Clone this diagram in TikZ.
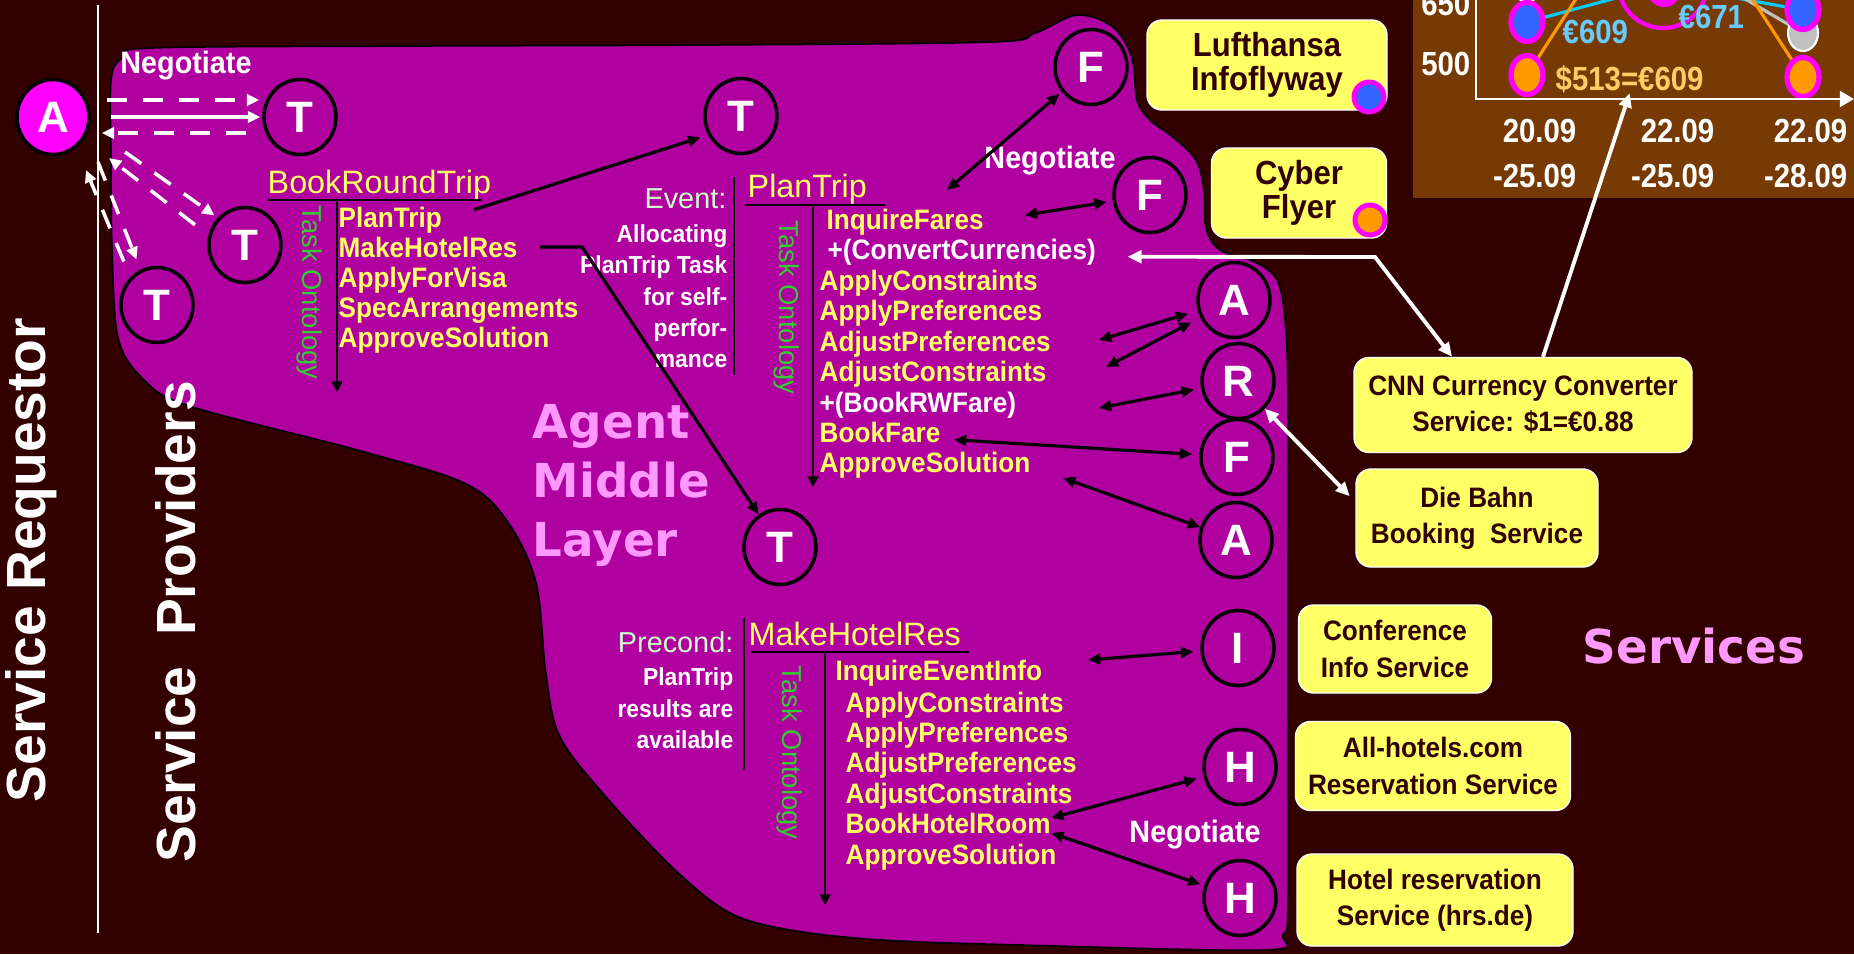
\documentclass[tikz,border=0pt]{standalone}
\usepackage{fontspec}
\setmainfont{Liberation Sans}
\newfontfamily\narrowfont[FakeStretch=0.93]{Liberation Sans}
\newfontfamily\chartfont[FakeStretch=0.88]{Liberation Sans}
\newfontfamily\layerfont{DejaVu Sans}
\usetikzlibrary{arrows.meta, shapes.geometric}

\definecolor{bgmaroon}{HTML}{330000}
\definecolor{layerpurple}{HTML}{B000A0}
\definecolor{agentmag}{HTML}{FF00FF}
\definecolor{taskyellow}{HTML}{FFFF66}
\definecolor{ontogreen}{HTML}{33CC33}
\definecolor{condgreen}{HTML}{CCFFCC}
\definecolor{layerpink}{HTML}{FF99FF}
\definecolor{chartbrown}{HTML}{773A04}
\definecolor{fareblue}{HTML}{3366FF}
\definecolor{fareorange}{HTML}{FF9900}
\definecolor{faregray}{HTML}{C0C0C0}
\definecolor{eurocyan}{HTML}{66CCFF}
\definecolor{linecyan}{HTML}{00CCFF}
\definecolor{dollartan}{HTML}{FFCC66}

\tikzset{
  agent/.style={ellipse, draw=black, line width=1pt, minimum width=7.2mm, minimum height=7.5mm, inner sep=0pt, text=white, font=\bfseries\fontsize{12.5}{14}\selectfont},
  taskhead/.style={anchor=base west, inner sep=0pt, text=taskyellow, font=\fontsize{9.2}{11}\selectfont},
  taskitem/.style={anchor=base west, inner sep=0pt, text=taskyellow, font=\narrowfont\bfseries\fontsize{8}{9}\selectfont},
  subtask/.style={taskitem, text=white},
  ontolabel/.style={rotate=-90, anchor=west, inner sep=0pt, text=ontogreen, font=\fontsize{7.8}{9}\selectfont},
  condhead/.style={anchor=base east, inner sep=0pt, text=condgreen, font=\fontsize{8.2}{10}\selectfont},
  condtext/.style={anchor=base east, inner sep=0pt, text=white, font=\narrowfont\bfseries\fontsize{7}{8}\selectfont},
  negolabel/.style={anchor=base, inner sep=0pt, text=white, font=\narrowfont\bfseries\fontsize{8.8}{10}\selectfont},
  layerlabel/.style={anchor=base west, inner sep=0pt, text=layerpink, font=\layerfont\bfseries\fontsize{13.3}{16}\selectfont},
  rolelabel/.style={rotate=90, inner sep=0pt, text=white, font=\bfseries\fontsize{15.7}{18}\selectfont},
  svcbox/.style={rectangle, rounded corners=1.5mm, fill=taskyellow, draw=white, line width=0.4pt, text=bgmaroon, align=center, inner sep=0pt, font=\narrowfont\bfseries\fontsize{8}{10.3}\selectfont},
  flightbox/.style={svcbox, font=\narrowfont\bfseries\fontsize{9.5}{9.6}\selectfont},
  svcdot/.style={circle, draw=agentmag, line width=1.4pt, minimum size=3mm, inner sep=0pt},
  farept/.style={ellipse, draw=agentmag, line width=1.5pt, minimum width=3.2mm, minimum height=3.9mm, inner sep=0pt},
  charttext/.style={inner sep=0pt, font=\chartfont\bfseries\fontsize{9.5}{11}\selectfont},
  link/.style={black, line width=0.9pt, >={Triangle[length=3.5pt,width=3pt]}, <->},
  tolink/.style={black, line width=0.9pt, >={Triangle[length=3.5pt,width=3pt]}, ->},
  treeline/.style={black, line width=0.6pt, >={Triangle[length=3pt,width=3pt]}},
  wdash/.style={white, line width=1pt, dash pattern=on 2mm off 1.6mm, >={Triangle[length=3.5pt,width=3.2pt]}, ->},
  wlink/.style={white, line width=1.1pt, >={Triangle[length=4pt,width=3.6pt]}}
}

\begin{document}
\begin{tikzpicture}[x=0.1mm, y=-0.1mm]
\useasboundingbox (0,0) rectangle (1854,954);
\fill[bgmaroon] (0,0) rectangle (1854,954);

\draw[fill=layerpurple, line width=0.5pt] plot[smooth cycle, tension=0.55] coordinates {
  (111,80) (122,58) (150,48) (400,46) (700,45) (990,42) (1035,33) (1077,15) (1113,27)
  (1132,58) (1137,100) (1150,120) (1173,137) (1196,160) (1204,190) (1206,228) (1220,250)
  (1255,262) (1277,280) (1285,320) (1288,400) (1288,650) (1288,900) (1283,935) (1265,950)
  (1019,945) (881,940) (790,930) (730,913) (675,870) (606,797) (560,737) (546,675)
  (536,583) (507,521) (464,483) (357,450) (189,406) (143,379) (118,338) (112,250) (111,160)};
\draw[white, line width=0.6pt] (98,5) -- (98,933);

\fill[chartbrown] (1413,0) rectangle (1854,198);
\begin{scope}
\clip (1413,0) rectangle (1854,198);
\coordinate (b1) at (1527,22);
\coordinate (o1) at (1527,75);
\coordinate (g1) at (1527,-18);
\coordinate (m1) at (1664,-15);
\coordinate (b2) at (1803,10);
\coordinate (g2) at (1803,33);
\coordinate (o2) at (1803,77);
\coordinate (otop1) at (1601,-40);
\coordinate (otop2) at (1727,-40);
\coordinate (gtop) at (1696,-30);
\draw[linecyan, line width=0.9pt] (b1) -- (m1) -- (b2);
\draw[faregray, line width=0.9pt] (g2) -- (gtop);
\draw[fareorange, line width=0.9pt] (o1) -- (otop1);
\draw[fareorange, line width=0.9pt] (o2) -- (otop2);
\node[ellipse, draw=agentmag, line width=1.2pt, minimum width=8.8mm, minimum height=8.6mm] (hilite) at (1663,-15) {};
\node[farept, fill=agentmag] (m1dot) at (m1) {};
\node[farept, fill=faregray, draw=white, line width=0.6pt] (g1dot) at (g1) {};
\node[farept, fill=fareblue] (b1dot) at (b1) {};
\node[farept, fill=fareorange] (o1dot) at (o1) {};
\node[farept, fill=faregray, draw=white, line width=0.6pt, minimum width=3mm, minimum height=3.6mm] (g2dot) at (g2) {};
\node[farept, fill=fareblue] (b2dot) at (b2) {};
\node[farept, fill=fareorange] (o2dot) at (o2) {};
\end{scope}
\draw[white, line width=0.7pt, -{Triangle[length=4pt,width=4.5pt]}] (1476,0) -- (1476,99) -- (1854,99);
\node[charttext, text=white, anchor=base east] (y650) at (1471,15) {650};
\node[charttext, text=white, anchor=base east] (y500) at (1471,75) {500};
\node[charttext, text=white, anchor=base east] (d1a) at (1577,142) {20.09};
\node[charttext, text=white, anchor=base east] (d1b) at (1577,187) {-25.09};
\node[charttext, text=white, anchor=base east] (d2a) at (1715,142) {22.09};
\node[charttext, text=white, anchor=base east] (d2b) at (1715,187) {-25.09};
\node[charttext, text=white, anchor=base east] (d3a) at (1848,142) {22.09};
\node[charttext, text=white, anchor=base east] (d3b) at (1848,187) {-28.09};
\node[charttext, text=eurocyan, anchor=base west] (e609) at (1562,43) {€609};
\node[charttext, text=eurocyan, anchor=base west] (e671) at (1678,28) {€671};
\node[charttext, text=dollartan, anchor=base west] (d513) at (1555,90) {\$513=€609};

\node[rolelabel] (requestor) at (31,560) {Service Requestor};
\node[rolelabel] (providers) at (176,622) {Service\ \ Providers};
\node[layerlabel] (layer1) at (532,438) {Agent};
\node[layerlabel] (layer2) at (532,497) {Middle};
\node[layerlabel] (layer3) at (532,556) {Layer};
\node[layerlabel, anchor=base] (services) at (1694,663) {Services};

\node[negolabel] (nego1) at (186,73) {Negotiate};
\node[negolabel] (nego2) at (1050,168) {Negotiate};
\node[negolabel] (nego3) at (1195,842) {Negotiate};

\node[agent, fill=agentmag] (req) at (53,117) {A};
\node[agent] (t1) at (300,117) {T};
\node[agent] (t2) at (245,245) {T};
\node[agent] (t3) at (157,305) {T};
\node[agent] (t4) at (741,116) {T};
\node[agent] (t5) at (780,547) {T};
\node[agent] (f1) at (1091,67) {F};
\node[agent] (f2) at (1150,195) {F};
\node[agent] (a1) at (1234,300) {A};
\node[agent] (r1) at (1238,381) {R};
\node[agent] (f3) at (1237,457) {F};
\node[agent] (a2) at (1236,540) {A};
\node[agent] (i1) at (1238,648) {I};
\node[agent] (h1) at (1240,767) {H};
\node[agent] (h2) at (1240,898) {H};

\node[taskhead] (brt) at (267,193) {BookRoundTrip};
\draw[treeline] (268,200) -- (482,200);
\draw[treeline, ->] (337,200) -- (337,392);
\node[ontolabel] (onto1) at (310,205) {Task Ontology};
\node[taskitem] (brt1) at (338,227) {PlanTrip};
\node[taskitem] (brt2) at (338,257) {MakeHotelRes};
\node[taskitem] (brt3) at (338,287) {ApplyForVisa};
\node[taskitem] (brt4) at (338,317) {SpecArrangements};
\node[taskitem] (brt5) at (338,347) {ApproveSolution};

\node[condhead] (ev) at (727,208) {Event:};
\node[condtext] (ev1) at (728,242) {Allocating};
\node[condtext] (ev2) at (728,273) {PlanTrip Task};
\node[condtext] (ev3) at (728,305) {for self-};
\node[condtext] (ev4) at (728,336) {perfor-};
\node[condtext] (ev5) at (728,367) {mance};
\draw[treeline] (734,177) -- (734,375);
\node[taskhead] (pt) at (747,197) {PlanTrip};
\draw[treeline] (745,205) -- (885,205);
\draw[treeline, ->] (813,205) -- (813,487);
\node[ontolabel] (onto2) at (787,220) {Task Ontology};
\node[taskitem] (pt1) at (826,229) {InquireFares};
\node[subtask] (pt2) at (827,259) {+(ConvertCurrencies)};
\node[taskitem] (pt3) at (819,290) {ApplyConstraints};
\node[taskitem] (pt4) at (819,320) {ApplyPreferences};
\node[taskitem] (pt5) at (819,351) {AdjustPreferences};
\node[taskitem] (pt6) at (819,381) {AdjustConstraints};
\node[subtask] (pt7) at (819,412) {+(BookRWFare)};
\node[taskitem] (pt8) at (819,442) {BookFare};
\node[taskitem] (pt9) at (819,472) {ApproveSolution};

\node[condhead] (pc) at (734,652) {Precond:};
\node[condtext] (pc1) at (734,685) {PlanTrip};
\node[condtext] (pc2) at (734,717) {results are};
\node[condtext] (pc3) at (734,748) {available};
\draw[treeline] (744,618) -- (744,770);
\node[taskhead] (mh) at (748,645) {MakeHotelRes};
\draw[treeline] (751,652) -- (969,652);
\draw[treeline, ->] (825,652) -- (825,905);
\node[ontolabel] (onto3) at (790,665) {Task Ontology};
\node[taskitem] (mh1) at (835,680) {InquireEventInfo};
\node[taskitem] (mh2) at (845,712) {ApplyConstraints};
\node[taskitem] (mh3) at (845,742) {ApplyPreferences};
\node[taskitem] (mh4) at (845,772) {AdjustPreferences};
\node[taskitem] (mh5) at (845,803) {AdjustConstraints};
\node[taskitem] (mh6) at (845,833) {BookHotelRoom};
\node[taskitem] (mh7) at (845,864) {ApproveSolution};

\node[flightbox, minimum width=24mm, minimum height=9mm] (lufthansa) at (1267,65) {Lufthansa\\Infoflyway};
\node[svcdot, fill=fareblue] (lhdot) at (1369,97) {};
\node[flightbox, minimum width=17.5mm, minimum height=9mm] (cyber) at (1299,193) {Cyber\\Flyer};
\node[svcdot, fill=fareorange] (cfdot) at (1370,220) {};
\node[svcbox, minimum width=33.8mm, minimum height=9.5mm] (cnn) at (1523,405) {CNN Currency Converter\\Service: \$1=€0.88};
\node[svcbox, minimum width=24.2mm, minimum height=9.8mm] (bahn) at (1477,518) {Die Bahn\\Booking\ \ Service};
\node[svcbox, minimum width=19.3mm, minimum height=8.8mm] (conf) at (1395,649) {Conference\\Info Service};
\node[svcbox, minimum width=27.5mm, minimum height=8.9mm] (allhotels) at (1433,766) {All-hotels.com\\Reservation Service};
\node[svcbox, minimum width=27.6mm, minimum height=9.2mm] (hrs) at (1435,900) {Hotel reservation\\Service (hrs.de)};

\draw[wdash, shorten <=1.6mm, shorten >=0.3mm] ([yshift=1.7mm]req.east) -- ([yshift=1.7mm]t1.west);
\draw[white, line width=1pt, >={Triangle[length=3.5pt,width=3.2pt]}, ->, shorten <=2mm, shorten >=0.2mm] (req.east) -- (t1.west);
\draw[wdash, shorten <=1.6mm, shorten >=1.1mm] ([yshift=-1.6mm]t1.west) -- ([yshift=-1.6mm]req.east);
\coordinate (q1) at (125,152);
\coordinate (q2) at (109,158);
\coordinate (q3) at (98,162);
\coordinate (q4) at (86,170);
\draw[wdash, shorten >=0.4mm] (q1) -- (t2.135);
\draw[wdash, shorten <=1.7mm] (t2.165) -- (q2);
\draw[wdash, shorten >=1.1mm] (q3) -- (t3.115);
\draw[wdash, shorten <=1.7mm] (t3.north west) -- (q4);

\draw[tolink, shorten <=3.3mm, shorten >=0.8mm] (brt1.east) -- (t4.210);
\draw[tolink, shorten <=2.2mm] (brt2.east) -- ++(64,0) -- (t5);

\coordinate (p1) at (947,190);
\coordinate (p2) at (1099,340);
\coordinate (p3) at (1106,367);
\coordinate (p4) at (1099,408);
\coordinate (p5) at (1063,478);
\coordinate (p6) at (1088,660);
\draw[link, shorten >=0.3mm] (p1) -- (f1);
\draw[link, shorten <=4.1mm, shorten >=0.6mm] (pt1.east) -- (f2);
\draw[link, shorten >=1mm] (p2) -- (a1);
\draw[link, shorten >=1mm] (p3) -- (a1);
\draw[link, shorten >=0.7mm] (p4) -- (r1);
\draw[link, shorten <=1.3mm, shorten >=0.7mm] ([yshift=-0.7mm]pt8.east) -- (f3);
\draw[link] (p5) -- (a2);
\draw[link, shorten >=0.7mm] (p6) -- (i1);
\draw[link, shorten >=0.7mm] ([yshift=0.5mm]mh6.east) -- (h1);
\draw[link, shorten >=0.4mm] ([yshift=-1mm]mh6.east) -- (h2);

\coordinate (cbend) at (1375,257);
\draw[wlink, <->] ([xshift=3.1mm,yshift=-0.5mm]pt2.east) -- (cbend) -- ([xshift=-7.1mm]cnn.north);
\draw[wlink, ->] ([xshift=2mm]cnn.north) -- (d513.south);
\draw[wlink, <->, shorten >=0.8mm] (r1) -- ([yshift=1.6mm]bahn.west);
\end{tikzpicture}
\end{document}
